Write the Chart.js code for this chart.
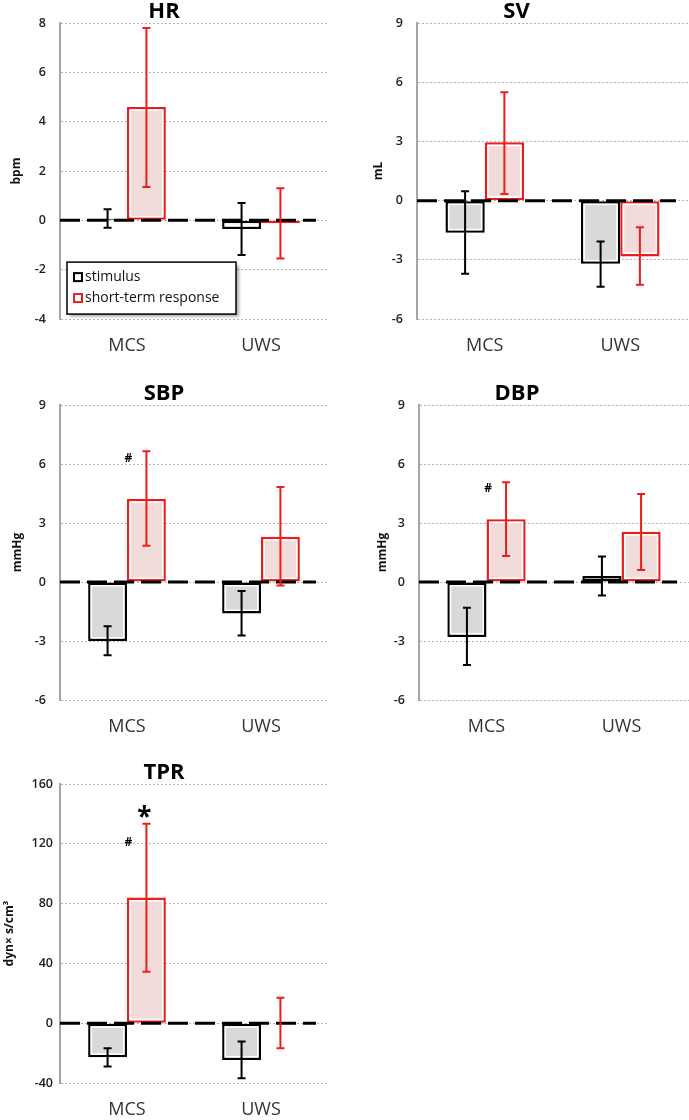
<!DOCTYPE html>
<html>
<head>
<meta charset="utf-8">
<script src="https://cdn.jsdelivr.net/npm/chart.js@4.4.1/dist/chart.umd.min.js"></script>
<style>
  html, body { margin: 0; padding: 0; background: #fff; }
  body { width: 689px; height: 1120px; position: relative; overflow: hidden; }
  canvas { position: absolute; }
</style>
</head>
<body>
<canvas id="hr" width="345" height="359" style="left:0;top:0"></canvas>
<canvas id="sv" width="344" height="359" style="left:345px;top:0"></canvas>
<canvas id="sbp" width="345" height="358" style="left:0;top:382px"></canvas>
<canvas id="dbp" width="344" height="358" style="left:345px;top:382px"></canvas>
<canvas id="tpr" width="345" height="359" style="left:0;top:761px"></canvas>
<script>
var groups = ['MCS', 'UWS'];
var seriesNames = ['stimulus', 'short-term response'];

// HR (bpm)
var hrTicks = [-4, -2, 0, 2, 4, 6, 8];
var hrStim = [0.07, -0.35];
var hrStimLow = [-0.3, -1.4];
var hrStimHigh = [0.45, 0.7];
var hrResp = [4.6, -0.12];
var hrRespLow = [1.35, -1.55];
var hrRespHigh = [7.8, 1.3];

// SV (mL)
var svTicks = [-6, -3, 0, 3, 6, 9];
var svStim = [-1.63, -3.2];
var svStimLow = [-3.7, -4.37];
var svStimHigh = [0.47, -2.07];
var svResp = [2.96, -2.83];
var svRespLow = [0.34, -4.26];
var svRespHigh = [5.5, -1.35];

// SBP (mmHg)
var sbpTicks = [-6, -3, 0, 3, 6, 9];
var sbpStim = [-3.0, -1.6];
var sbpStimLow = [-3.73, -2.72];
var sbpStimHigh = [-2.25, -0.46];
var sbpResp = [4.23, 2.3];
var sbpRespLow = [1.84, -0.17];
var sbpRespHigh = [6.65, 4.83];
var sbpMarks = [['#', 6.27]];

// DBP (mmHg)
var dbpTicks = [-6, -3, 0, 3, 6, 9];
var dbpStim = [-2.79, 0.31];
var dbpStimLow = [-4.22, -0.68];
var dbpStimHigh = [-1.31, 1.3];
var dbpResp = [3.2, 2.56];
var dbpRespLow = [1.33, 0.61];
var dbpRespHigh = [5.08, 4.48];
var dbpMarks = [['#', 4.74]];

// TPR (dyn x s/cm^5)
var tprTicks = [-40, 0, 40, 80, 120, 160];
var tprStim = [-22.8, -24.6];
var tprStimLow = [-29, -36.8];
var tprStimHigh = [-16.7, -12.3];
var tprResp = [84.1, 0.3];
var tprRespLow = [34.5, -16.7];
var tprRespHigh = [133.4, 17.1];
var tprMarks = [['#', 121], ['*', 141]];

var RED = '#ee1c1c';

Chart.defaults.font.family = "'Open Sans', 'DejaVu Sans', sans-serif";
Chart.defaults.color = '#222';

var panelDecor = {
  id: 'panelDecor',
  afterDatasetsDraw: function (chart, args, opts) {
    var ctx = chart.ctx;
    var area = chart.chartArea;
    var yScale = chart.scales.y;

    ctx.save();

    // white inner ring of each bar
    chart.data.datasets.forEach(function (ds, di) {
      chart.getDatasetMeta(di).data.forEach(function (bar) {
        var p = bar.getProps(['x', 'y', 'base', 'width'], true);
        var top = Math.min(p.y, p.base);
        var bot = Math.max(p.y, p.base);
        if (bot - top < 8) {
          return;
        }
        ctx.strokeStyle = '#fff';
        ctx.lineWidth = 1.5;
        ctx.strokeRect(p.x - p.width / 2 + 3.2, top + 3.2, p.width - 6.4, bot - top - 6.4);
      });
    });

    // dashed zero line
    var y0 = yScale.getPixelForValue(0);
    ctx.setLineDash([20, 7]);
    ctx.lineWidth = 3;
    ctx.strokeStyle = '#000';
    ctx.beginPath();
    ctx.moveTo(area.left, y0);
    ctx.lineTo(area.right - 12, y0);
    ctx.stroke();
    ctx.setLineDash([]);

    // error bars
    chart.data.datasets.forEach(function (ds, di) {
      chart.getDatasetMeta(di).data.forEach(function (bar, i) {
        var x = bar.getProps(['x'], true).x;
        var lo = yScale.getPixelForValue(ds.errLow[i]);
        var hi = yScale.getPixelForValue(ds.errHigh[i]);
        ctx.strokeStyle = ds.borderColor;
        ctx.lineWidth = 2;
        ctx.beginPath();
        ctx.moveTo(x, lo);
        ctx.lineTo(x, hi);
        ctx.moveTo(x - 4, lo);
        ctx.lineTo(x + 4, lo);
        ctx.moveTo(x - 4, hi);
        ctx.lineTo(x + 4, hi);
        ctx.stroke();
      });
    });

    // significance marks on the MCS response bar
    (opts.marks || []).forEach(function (m) {
      var bar = chart.getDatasetMeta(1).data[0];
      var bx = bar.getProps(['x'], true).x;
      var my = yScale.getPixelForValue(m[1]);
      ctx.fillStyle = '#000';
      ctx.textAlign = 'center';
      ctx.textBaseline = 'middle';
      if (m[0] === '*') {
        ctx.font = "bold 26px 'Open Sans', sans-serif";
        ctx.fillText(m[0], bx - 2, my + 6);
      } else {
        ctx.font = "bold 12px 'Open Sans', sans-serif";
        ctx.fillText(m[0], bx - 18, my);
      }
    });

    ctx.restore();
  },
  afterDraw: function (chart, args, opts) {
    if (!opts.legend) {
      return;
    }
    var ctx = chart.ctx;
    var area = chart.chartArea;
    var left = area.left + 7;
    var top = area.top + 239;
    var w = 169;
    var h = 52;

    ctx.save();
    ctx.shadowColor = 'rgba(0,0,0,0.35)';
    ctx.shadowBlur = 3;
    ctx.shadowOffsetX = 3;
    ctx.shadowOffsetY = 3;
    ctx.fillStyle = '#fff';
    ctx.fillRect(left, top, w, h);
    ctx.restore();

    ctx.save();
    ctx.strokeStyle = '#000';
    ctx.lineWidth = 1.5;
    ctx.strokeRect(left, top, w, h);

    chart.data.datasets.forEach(function (ds, i) {
      var sy = top + 11 + i * 21;
      ctx.fillStyle = '#fff';
      ctx.fillRect(left + 7, sy, 8, 8);
      ctx.strokeStyle = ds.borderColor;
      ctx.lineWidth = 2;
      ctx.strokeRect(left + 7, sy, 8, 8);
      ctx.fillStyle = '#111';
      ctx.font = "14px 'Open Sans', sans-serif";
      ctx.textAlign = 'left';
      ctx.textBaseline = 'middle';
      ctx.fillText(ds.label, left + 18, sy + 4);
    });
    ctx.restore();
  }
};

Chart.register(panelDecor);

function makePanel(id, p) {
  var ticks = p.ticks;
  return new Chart(document.getElementById(id), {
    type: 'bar',
    data: {
      labels: groups,
      datasets: [{
        label: seriesNames[0],
        data: p.stim,
        errLow: p.stimLow,
        errHigh: p.stimHigh,
        backgroundColor: '#d9d9d9',
        borderColor: '#000',
        borderWidth: 2.5,
        borderSkipped: false,
        categoryPercentage: 0.58,
        barPercentage: 1.0
      }, {
        label: seriesNames[1],
        data: p.resp,
        errLow: p.respLow,
        errHigh: p.respHigh,
        backgroundColor: '#f2dcdb',
        borderColor: RED,
        borderWidth: 2.5,
        borderSkipped: false,
        categoryPercentage: 0.58,
        barPercentage: 1.0
      }]
    },
    options: {
      responsive: false,
      animation: false,
      devicePixelRatio: 1,
      layout: { padding: { top: 0, right: p.padRight, bottom: 0, left: 0 } },
      plugins: {
        legend: { display: false },
        tooltip: { enabled: false },
        title: {
          display: true,
          text: p.title,
          color: '#000',
          font: { size: 22, weight: 'bold', lineHeight: 1.05 },
          padding: { top: 0, bottom: 0 }
        },
        panelDecor: { legend: !!p.legend, marks: p.marks || [] }
      },
      scales: {
        x: {
          grid: { display: false, drawTicks: false },
          border: { display: false },
          ticks: { color: '#333', font: { size: 18 }, padding: 16 },
          afterFit: function (scale) { scale.height = p.xHeight; }
        },
        y: {
          min: ticks[0],
          max: ticks[ticks.length - 1],
          grid: { color: '#b3b3b3', lineWidth: 1, drawTicks: false },
          border: { display: true, color: '#a6a6a6', width: 2, dash: [2, 2] },
          ticks: {
            stepSize: ticks[1] - ticks[0],
            padding: p.tickPad,
            color: '#222',
            font: { size: 12.5, weight: '600' }
          },
          title: {
            display: true,
            text: p.unit,
            color: '#111',
            font: { size: 12, weight: 'bold' },
            padding: { top: p.unitPad, bottom: 0 }
          },
          afterFit: function (scale) { scale.width = p.axisWidth; }
        }
      }
    }
  });
}

makePanel('hr', {
  title: 'HR', unit: 'bpm', ticks: hrTicks,
  stim: hrStim, stimLow: hrStimLow, stimHigh: hrStimHigh,
  resp: hrResp, respLow: hrRespLow, respHigh: hrRespHigh,
  axisWidth: 60, padRight: 17, tickPad: 14, unitPad: 9, xHeight: 40, legend: true
});

makePanel('sv', {
  title: 'SV', unit: 'mL', ticks: svTicks,
  stim: svStim, stimLow: svStimLow, stimHigh: svStimHigh,
  resp: svResp, respLow: svRespLow, respHigh: svRespHigh,
  axisWidth: 72, padRight: 1, tickPad: 14, unitPad: 26, xHeight: 40
});

makePanel('sbp', {
  title: 'SBP', unit: 'mmHg', ticks: sbpTicks,
  stim: sbpStim, stimLow: sbpStimLow, stimHigh: sbpStimHigh,
  resp: sbpResp, respLow: sbpRespLow, respHigh: sbpRespHigh,
  marks: sbpMarks,
  axisWidth: 60, padRight: 17, tickPad: 14, unitPad: 10, xHeight: 40
});

makePanel('dbp', {
  title: 'DBP', unit: 'mmHg', ticks: dbpTicks,
  stim: dbpStim, stimLow: dbpStimLow, stimHigh: dbpStimHigh,
  resp: dbpResp, respLow: dbpRespLow, respHigh: dbpRespHigh,
  marks: dbpMarks,
  axisWidth: 74, padRight: 0, tickPad: 14, unitPad: 30, xHeight: 40
});

makePanel('tpr', {
  title: 'TPR', unit: 'dyn× s/cm³', ticks: tprTicks,
  stim: tprStim, stimLow: tprStimLow, stimHigh: tprStimHigh,
  resp: tprResp, respLow: tprRespLow, respHigh: tprRespHigh,
  marks: tprMarks,
  axisWidth: 60, padRight: 17, tickPad: 7, unitPad: 2, xHeight: 37
});
</script>
</body>
</html>
